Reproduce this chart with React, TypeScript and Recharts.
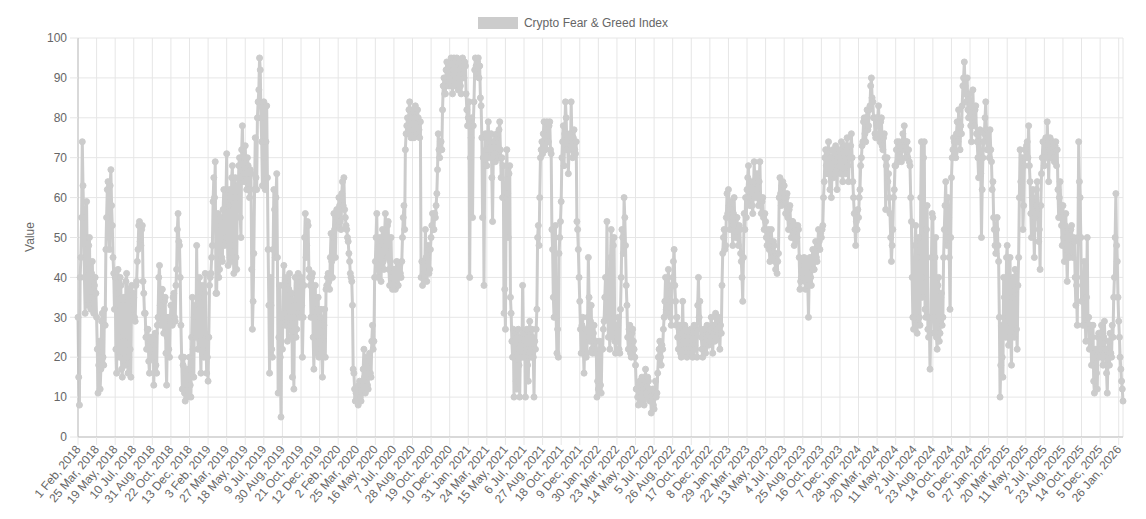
import React from 'react';
import { LineChart, Line, XAxis, YAxis, CartesianGrid, Legend } from 'recharts';

// Sampling step (days between readings) and tick spacing (days between x labels)
const STEP = 2;
const TICK_EVERY = 52;
const DAYS_PER_BLOCK = 7 * TICK_EVERY; // each block below covers 7 label intervals

const tickLabels = [
  '1 Feb, 2018', '25 Mar, 2018', '19 May, 2018', '10 Jul, 2018', '31 Aug, 2018', '22 Oct, 2018', '13 Dec, 2018',
  '3 Feb, 2019', '27 Mar, 2019', '18 May, 2019', '9 Jul, 2019', '30 Aug, 2019', '21 Oct, 2019', '12 Dec, 2019',
  '2 Feb, 2020', '25 Mar, 2020', '16 May, 2020', '7 Jul, 2020', '28 Aug, 2020', '19 Oct, 2020', '10 Dec, 2020',
  '31 Jan, 2021', '24 Mar, 2021', '15 May, 2021', '6 Jul, 2021', '27 Aug, 2021', '18 Oct, 2021', '9 Dec, 2021',
  '30 Jan, 2022', '23 Mar, 2022', '14 May, 2022', '5 Jul, 2022', '26 Aug, 2022', '17 Oct, 2022', '8 Dec, 2022',
  '29 Jan, 2023', '22 Mar, 2023', '13 May, 2023', '4 Jul, 2023', '25 Aug, 2023', '16 Oct, 2023', '7 Dec, 2023',
  '28 Jan, 2024', '20 Mar, 2024', '11 May, 2024', '2 Jul, 2024', '23 Aug, 2024', '14 Oct, 2024', '6 Dec, 2024',
  '27 Jan, 2025', '20 Mar, 2025', '11 May, 2025', '2 Jul, 2025', '23 Aug, 2025', '14 Oct, 2025', '5 Dec, 2025',
  '26 Jan, 2026',
];

const yTicks = [0, 10, 20, 30, 40, 50, 60, 70, 80, 90, 100];

// Index readings, one every STEP days; each block starts at a label (1 Feb 2018, 3 Feb 2019, ...)
const fngFrom2018 = [
  30,15, 8,40, 45,55, 74,63, 55,40, 31,50, 59,42, 33,48, 50,35, 32,41, 44,35, 31,38, 40,36,
  30,22, 11,18, 24,12, 17,29, 31,20, 18,32, 28,47, 55,62, 64,52, 47,63, 67,58, 53,45, 41,32,
  40,22, 16,36, 42,25, 20,40, 38,17, 15,33, 35,24, 18,39, 41,20, 16,34, 37,22, 15,38, 32,36,
  35,30, 29,38, 39,44, 47,53, 54,49, 48,52, 53,39, 36,31, 31,25, 22,27, 27,19, 16,24, 25,20,
  20,25, 13,22, 26,18, 16,28, 30,40, 43,33, 28,37, 37,30, 26,34, 35,21, 13,25, 30,22, 20,29,
  33,30, 28,35, 36,30, 29,38, 42,52, 56,49, 48,40, 28,20, 12,18, 20,11, 9,15, 17,10, 11,17,
  20,13, 10,25, 35,22, 15,33, 30,25, 48,30, 22,35, 40,24, 16,33, 38,22, 20,36, 41,25, 16,20,
];
const fngFrom2019 = [
  14,25, 38,40, 41,45, 48,59, 65,60, 69,36, 36,48, 56,40, 42,53, 55,45, 44,57, 62,48, 50,60,
  71,50, 43,58, 62,45, 44,65, 68,48, 41,60, 65,45, 42,63, 60,68, 70,55, 50,72, 78,66, 64,70,
  73,66, 62,70, 68,62, 60,67, 66,42, 27,34, 46,62, 75,65, 62,80, 84,87, 95,92, 80,74, 63,74,
  84,70, 62,74, 83,65, 47,33, 16,40, 33,22, 20,47, 62,57, 45,60, 66,45, 11,25, 38,20, 5,30,
  22,38, 43,31, 28,39, 40,24, 30,37, 41,28, 25,36, 15,30, 12,33, 40,25, 27,38, 41,31, 30,39,
  40,33, 20,30, 38,50, 56,45, 48,54, 53,42, 40,38, 30,40, 41,25, 17,30, 38,21, 22,32, 35,20,
  24,30, 32,21, 15,25, 28,32, 20,37, 38,40, 41,39, 37,45, 51,44, 40,50, 56,52, 45,55, 57,54,
];
const fngFrom2020 = [
  53,60, 58,54, 52,61, 64,58, 65,57, 55,53, 52,50, 49,46, 44,41, 40,39, 33,17, 16,12, 9,11,
  10,12, 8,13, 14,10, 9,12, 13,17, 22,15, 11,18, 20,13, 12,20, 21,16, 15,24, 28,22, 24,40,
  44,50, 56,43, 40,48, 50,42, 39,49, 52,44, 42,51, 56,47, 45,53, 54,42, 38,44, 50,40, 37,42,
  42,39, 37,41, 44,38, 38,43, 43,41, 40,44, 50,55, 58,52, 72,76, 78,80, 76,82, 84,78, 75,80,
  82,77, 75,80, 83,78, 76,82, 80,77, 75,79, 40,44, 38,41, 44,40, 52,45, 39,46, 48,41, 42,47,
  50,53, 56,52, 52,56, 55,58, 61,67, 76,72, 70,74, 74,72, 82,88, 90,86, 86,92, 94,89, 88,93,
  90,93, 95,88, 86,92, 95,89, 88,94, 95,90, 87,92, 94,88, 86,93, 95,91, 90,94, 93,86, 82,78,
];
const fngFrom2021 = [
  80,84, 40,70, 75,80, 55,78, 84,92, 95,93, 91,94, 95,90, 93,85, 83,75, 55,70, 38,68, 76,72,
  68,75, 79,72, 70,74, 76,65, 54,70, 74,71, 69,75, 76,70, 70,77, 79,72, 65,70, 60,68, 31,37,
  27,60, 72,61, 50,66, 68,35, 31,24, 20,27, 10,22, 26,14, 12,25, 27,18, 10,23, 25,20, 38,26,
  20,26, 10,22, 27,18, 14,25, 29,22, 20,27, 25,20, 10,24, 22,27, 32,50, 53,48, 60,70, 72,74,
  71,76, 79,73, 72,77, 79,74, 74,78, 79,72, 71,52, 47,35, 30,50, 53,30, 21,27, 20,46, 50,54,
  59,70, 74,78, 68,76, 84,80, 72,75, 66,72, 76,73, 84,74, 70,75, 77,72, 71,74, 54,52, 47,40,
  34,27, 21,28, 30,22, 16,25, 27,20, 21,30, 45,35, 24,29, 33,22, 21,26, 28,22, 21,24, 10,14,
];
const fngFrom2022 = [
  12,20, 24,13, 11,22, 22,27, 29,35, 40,30, 54,36, 25,30, 22,45, 52,27, 25,48, 50,24, 21,26,
  24,28, 30,22, 21,32, 40,52, 50,46, 60,55, 48,38, 33,25, 22,27, 28,21, 20,26, 27,24, 22,20,
  18,12, 12,10, 8,13, 14,9, 10,15, 12,9, 8,14, 17,11, 10,15, 14,10, 9,12, 6,11, 12,8,
  7,11, 14,10, 11,16, 20,22, 24,20, 18,23, 22,27, 30,34, 40,32, 31,38, 42,36, 34,30, 28,38,
  40,44, 47,38, 34,28, 30,25, 22,27, 28,21, 20,26, 34,24, 22,28, 27,21, 20,26, 25,22, 21,27,
  24,21, 20,27, 28,23, 22,26, 20,33, 40,30, 34,27, 25,22, 20,26, 27,22, 21,25, 28,24, 23,27,
  24,27, 30,25, 21,26, 28,24, 31,27, 25,29, 30,26, 22,28, 26,38, 46,50, 52,47, 48,55, 61,56,
];
const fngFrom2023 = [
  62,58, 52,57, 59,54, 48,56, 60,53, 50,55, 55,50, 48,53, 52,46, 44,40, 34,45, 56,52, 60,55,
  62,65, 68,60, 58,63, 64,58, 56,62, 69,64, 60,65, 66,61, 58,64, 69,60, 56,59, 60,55, 52,56,
  54,50, 48,51, 52,47, 44,49, 52,48, 45,49, 48,44, 42,46, 41,44, 46,60, 65,61, 58,63, 64,60,
  63,59, 56,60, 61,55, 52,57, 58,53, 50,54, 54,50, 48,52, 53,49, 50,53, 52,45, 37,39, 40,44,
  40,43, 45,39, 37,42, 44,38, 30,41, 45,40, 38,44, 47,42, 42,46, 49,45, 44,48, 52,49, 47,51,
  50,52, 53,60, 64,70, 72,68, 66,71, 74,66, 62,70, 60,68, 72,65, 66,71, 73,67, 62,70, 72,68,
  70,66, 74,68, 64,71, 73,67, 66,72, 75,68, 64,70, 70,73, 76,70, 64,60, 56,52, 48,54, 52,57,
];
const fngFrom2024 = [
  55,60, 62,68, 70,73, 74,79, 80,76, 74,80, 82,77, 78,82, 83,88, 90,85, 84,80, 80,76, 75,80,
  78,80, 83,76, 74,79, 80,73, 72,75, 76,70, 57,68, 70,64, 66,60, 56,50, 44,48, 52,60, 62,68,
  68,72, 74,69, 70,74, 73,70, 69,73, 76,72, 78,73, 70,74, 74,70, 72,69, 68,60, 54,40, 30,27,
  30,48, 53,28, 26,45, 50,30, 28,60, 74,35, 40,70, 74,32, 30,52, 58,27, 25,30, 17,26, 45,56,
  55,30, 26,45, 50,25, 22,38, 40,24, 26,35, 36,28, 30,45, 52,58, 64,50, 48,60, 55,45, 32,50,
  65,70, 72,75, 74,71, 70,76, 79,74, 82,76, 72,78, 76,83, 88,90, 94,88, 86,84, 90,82, 80,86,
  84,78, 74,80, 87,80, 78,82, 83,76, 74,70, 65,74, 77,66, 50,62, 70,74, 76,80, 84,77, 72,76,
];
const fngFrom2025 = [
  72,70, 77,72, 69,62, 64,55, 52,48, 46,52, 55,48, 44,30, 10,18, 28,20, 15,40, 35,28, 25,45,
  48,30, 23,40, 45,25, 18,35, 40,28, 25,42, 37,27, 22,38, 45,60, 72,64, 60,70, 52,58, 68,72,
  70,73, 74,70, 78,68, 64,56, 50,60, 62,52, 45,55, 58,62, 64,57, 49,52, 42,58, 66,70, 74,70,
  68,72, 75,70, 79,73, 64,72, 75,71, 70,74, 74,70, 69,73, 74,68, 72,62, 55,60, 64,58, 53,48,
  58,50, 44,53, 56,47, 39,48, 52,45, 48,52, 53,47, 45,50, 49,40, 33,38, 28,50, 74,64, 60,50,
  34,40, 28,35, 44,30, 24,35, 50,28, 30,22, 24,28, 18,25, 28,14, 11,20, 22,16, 12,25, 26,20,
  22,26, 28,20, 18,25, 29,22, 22,16, 11,20, 24,18, 26,21, 20,28, 25,35, 40,50, 61,48, 44,35,
  29, 25, 20, 17, 14, 12, 9,
];

const blocks = [
  fngFrom2018, fngFrom2019, fngFrom2020, fngFrom2021,
  fngFrom2022, fngFrom2023, fngFrom2024, fngFrom2025,
];

const data = blocks.flatMap((block, b) =>
  block.map((v, i) => ({ day: b * DAYS_PER_BLOCK + i * STEP, value: v }))
);
const lastDay = data[data.length - 1].day;
const xTicks = tickLabels.map((_, k) => k * TICK_EVERY);

const FONT = '"Liberation Sans", Arial, Helvetica, sans-serif';
const TEXT = '#666666';
const SERIES = '#cccccc';
const GRID = '#e6e6e6';
const AXIS = '#bfbfbf';

const XTick = (props: any) => {
  const { x, y, payload } = props;
  const idx = Math.round(payload.value / TICK_EVERY);
  return (
    <g transform={`translate(${x},${y})`}>
      <text
        x={0}
        y={0}
        dy="0.35em"
        textAnchor="end"
        transform="rotate(-50)"
        fontSize={12}
        fontFamily={FONT}
        fill={TEXT}
      >
        {tickLabels[idx]}
      </text>
    </g>
  );
};

const LegendContent = () => (
  <div
    style={{
      height: 30,
      display: 'flex',
      alignItems: 'center',
      justifyContent: 'center',
      fontFamily: FONT,
      fontSize: 12,
      color: TEXT,
    }}
  >
    <span style={{ display: 'inline-block', width: 40, height: 12, background: SERIES, marginRight: 6 }} />
    <span>Crypto Fear &amp; Greed Index</span>
  </div>
);

const renderYLabel = () => (
  <text
    x={30}
    y={237}
    transform="rotate(-90, 30, 237)"
    textAnchor="middle"
    dominantBaseline="central"
    fontSize={12}
    fontFamily={FONT}
    fill={TEXT}
  >
    Value
  </text>
);

export default function App() {
  return (
    <div style={{ position: 'absolute', left: 0, top: 0, width: 1146, height: 519, background: '#fff' }}>
      <LineChart width={1146} height={519} data={data} margin={{ top: 8, right: 23, bottom: 0, left: 0 }}>
        <Legend verticalAlign="top" content={<LegendContent />} wrapperStyle={{ left: 0, width: 1146, top: 8 }} />
        <CartesianGrid stroke={GRID} />
        <XAxis
          type="number"
          dataKey="day"
          domain={[0, lastDay]}
          ticks={xTicks}
          interval={0}
          height={82}
          tick={<XTick />}
          tickSize={8}
          tickMargin={2}
          tickLine={{ stroke: GRID }}
          axisLine={{ stroke: AXIS }}
          allowDecimals={false}
        />
        <YAxis
          type="number"
          domain={[0, 100]}
          ticks={yTicks}
          interval={0}
          width={78}
          tickSize={8}
          tickMargin={3}
          tickLine={{ stroke: GRID }}
          axisLine={{ stroke: AXIS }}
          tick={{ fontSize: 12, fontFamily: FONT, fill: TEXT }}
          label={{ content: renderYLabel }}
        />
        <Line
          type="linear"
          dataKey="value"
          stroke={SERIES}
          strokeWidth={3}
          dot={{ r: 3, fill: SERIES, stroke: SERIES, strokeWidth: 1 }}
          isAnimationActive={false}
          legendType="rect"
        />
      </LineChart>
    </div>
  );
}
